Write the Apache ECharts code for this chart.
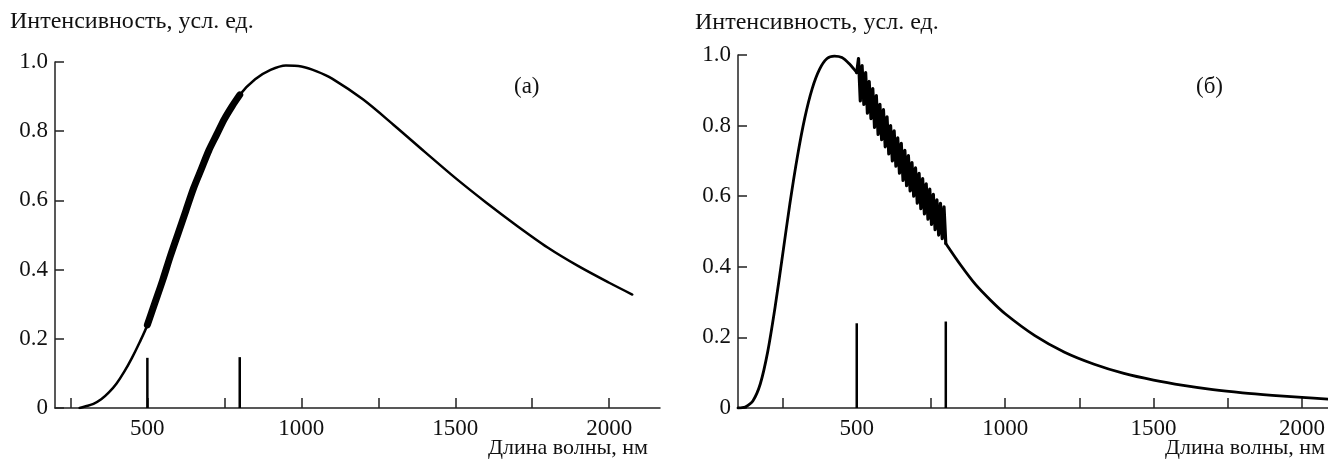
<!DOCTYPE html>
<html>
<head>
<meta charset="utf-8">
<script src="https://cdn.jsdelivr.net/npm/echarts@6/dist/echarts.min.js"></script>
<style>
  html, body { margin: 0; padding: 0; background: #fff; }
  #main { width: 1328px; height: 465px; }
</style>
</head>
<body>
<div id="main"></div>
<script type="text/javascript">
// (а) - плавная кривая
var waveA = [280, 300, 325, 350, 375, 400, 425, 450, 475, 500, 550, 600, 650, 700, 750, 800, 850, 900, 950, 1000, 1050, 1100, 1200, 1300, 1400, 1500, 1600, 1700, 1800, 1900, 2000, 2075];
var intenA = [0, 0.005, 0.012, 0.025, 0.045, 0.071, 0.105, 0.145, 0.19, 0.24, 0.37, 0.505, 0.635, 0.745, 0.835, 0.905, 0.95, 0.977, 0.99, 0.987, 0.973, 0.952, 0.892, 0.818, 0.741, 0.665, 0.594, 0.527, 0.464, 0.41, 0.362, 0.328];
// (а) - жирный участок 500-800 нм
var boldWaveA = [500, 525, 550, 575, 600, 625, 650, 675, 700, 725, 750, 775, 800];
var boldIntenA = [0.24, 0.305, 0.37, 0.44, 0.505, 0.57, 0.635, 0.69, 0.745, 0.79, 0.835, 0.872, 0.905];
// (а) - вертикальные метки
var markWaveA = [500, 800];
var markHeightA = [0.145, 0.147];

// (б) - левая часть
var waveB1 = [100, 110, 125, 150, 175, 200, 225, 250, 275, 300, 325, 350, 375, 400, 425, 450, 475, 500];
var intenB1 = [0, 0.0005, 0.003, 0.02, 0.068, 0.159, 0.286, 0.432, 0.58, 0.712, 0.822, 0.905, 0.96, 0.99, 0.997, 0.993, 0.975, 0.95];
// (б) - осцилляции 500-800 нм
var zigWaveB = [500, 506, 512, 518, 524, 530, 536, 542, 548, 554, 560, 566, 572, 578, 584, 590, 596, 602, 608, 614, 620, 626, 632, 638, 644, 650, 656, 662, 668, 674, 680, 686, 692, 698, 704, 710, 716, 722, 728, 734, 740, 746, 752, 758, 764, 770, 776, 782, 788, 794, 800];
var zigIntenB = [0.95, 0.99, 0.87, 0.97, 0.86, 0.95, 0.835, 0.925, 0.82, 0.905, 0.795, 0.885, 0.775, 0.86, 0.76, 0.845, 0.74, 0.825, 0.72, 0.8, 0.7, 0.785, 0.685, 0.765, 0.665, 0.75, 0.645, 0.73, 0.63, 0.715, 0.615, 0.695, 0.6, 0.68, 0.58, 0.665, 0.565, 0.65, 0.55, 0.635, 0.535, 0.62, 0.52, 0.605, 0.505, 0.59, 0.49, 0.58, 0.48, 0.57, 0.466];
// (б) - правая часть
var waveB2 = [800, 850, 900, 950, 1000, 1100, 1200, 1300, 1400, 1500, 1600, 1700, 1800, 1900, 2000, 2090];
var intenB2 = [0.466, 0.405, 0.35, 0.306, 0.267, 0.205, 0.158, 0.124, 0.098, 0.079, 0.064, 0.052, 0.043, 0.036, 0.03, 0.025];
// (б) - вертикальные метки
var markWaveB = [500, 800];
var markHeightB = [0.24, 0.245];

// подписи осей
var xTicks = [250, 500, 750, 1000, 1250, 1500, 1750, 2000];
var xLabels = [500, 1000, 1500, 2000];
var yTitle = "Интенсивность, усл. ед.";
var xTitle = "Длина волны, нм";

function zip(xs, ys) {
  return xs.map(function (x, i) { return [x, ys[i]]; });
}

var font = "Liberation Serif";
var ink = "#000";

function makeX(idx, min, max) {
  return {
    type: "value",
    gridIndex: idx,
    min: min,
    max: max,
    splitLine: { show: false },
    axisLine: { show: true, onZero: false, lineStyle: { color: "#222", width: 1.5 } },
    axisTick: { show: true, inside: true, length: 10, customValues: xTicks, lineStyle: { color: "#222", width: 1.5 } },
    axisLabel: {
      customValues: xLabels, margin: 9, color: "#111", fontFamily: font, fontSize: 23,
      formatter: function (v) { return String(v); }
    }
  };
}

function makeY(idx) {
  return {
    type: "value",
    gridIndex: idx,
    min: 0,
    max: 1,
    interval: 0.2,
    splitLine: { show: false },
    axisLine: { show: true, lineStyle: { color: "#222", width: 1.5 } },
    axisTick: { show: true, inside: true, length: 9, lineStyle: { color: "#222", width: 1.5 } },
    axisLabel: {
      margin: 7, color: "#111", fontFamily: font, fontSize: 23,
      formatter: function (v) { return v === 0 ? "0" : v.toFixed(1); }
    }
  };
}

function curve(idx, data, width, smooth) {
  return {
    type: "line",
    xAxisIndex: idx,
    yAxisIndex: idx,
    data: data,
    showSymbol: false,
    smooth: smooth,
    silent: true,
    lineStyle: { color: ink, width: width, cap: "round", join: "round" }
  };
}

function marks(idx, data) {
  return {
    type: "bar",
    xAxisIndex: idx,
    yAxisIndex: idx,
    data: data,
    barWidth: 2.5,
    silent: true,
    itemStyle: { color: ink }
  };
}

var myChart = echarts.init(document.getElementById("main"));
var option = {
  animation: false,
  backgroundColor: "#fff",
  grid: [
    { left: 55, top: 62, width: 605, height: 346 },
    { left: 738, top: 55, width: 590, height: 353 }
  ],
  xAxis: [makeX(0, 200, 2165), makeX(1, 100, 2087)],
  yAxis: [makeY(0), makeY(1)],
  graphic: [
    { type: "text", left: 10, top: 10, style: { text: yTitle, font: "24px " + font, fill: "#111" } },
    { type: "text", left: 695, top: 11, style: { text: yTitle, font: "24px " + font, fill: "#111" } },
    { type: "text", right: 680, top: 437, style: { text: xTitle, font: "22px " + font, fill: "#111" } },
    { type: "text", right: 3, top: 437, style: { text: xTitle, font: "22px " + font, fill: "#111" } },
    { type: "text", left: 514, top: 75, style: { text: "(а)", font: "23px " + font, fill: "#111" } },
    { type: "text", left: 1196, top: 75, style: { text: "(б)", font: "23px " + font, fill: "#111" } }
  ],
  series: [
    curve(0, zip(waveA, intenA), 2.5, 0.3),
    curve(0, zip(boldWaveA, boldIntenA), 7, 0.3),
    marks(0, zip(markWaveA, markHeightA)),
    curve(1, zip(waveB1, intenB1), 2.8, 0.3),
    curve(1, zip(zigWaveB, zigIntenB), 3.2, false),
    curve(1, zip(waveB2, intenB2), 2.8, 0.3),
    marks(1, zip(markWaveB, markHeightB))
  ]
};
window.onresize = myChart.resize;
myChart.setOption(option);
</script>
</body>
</html>
